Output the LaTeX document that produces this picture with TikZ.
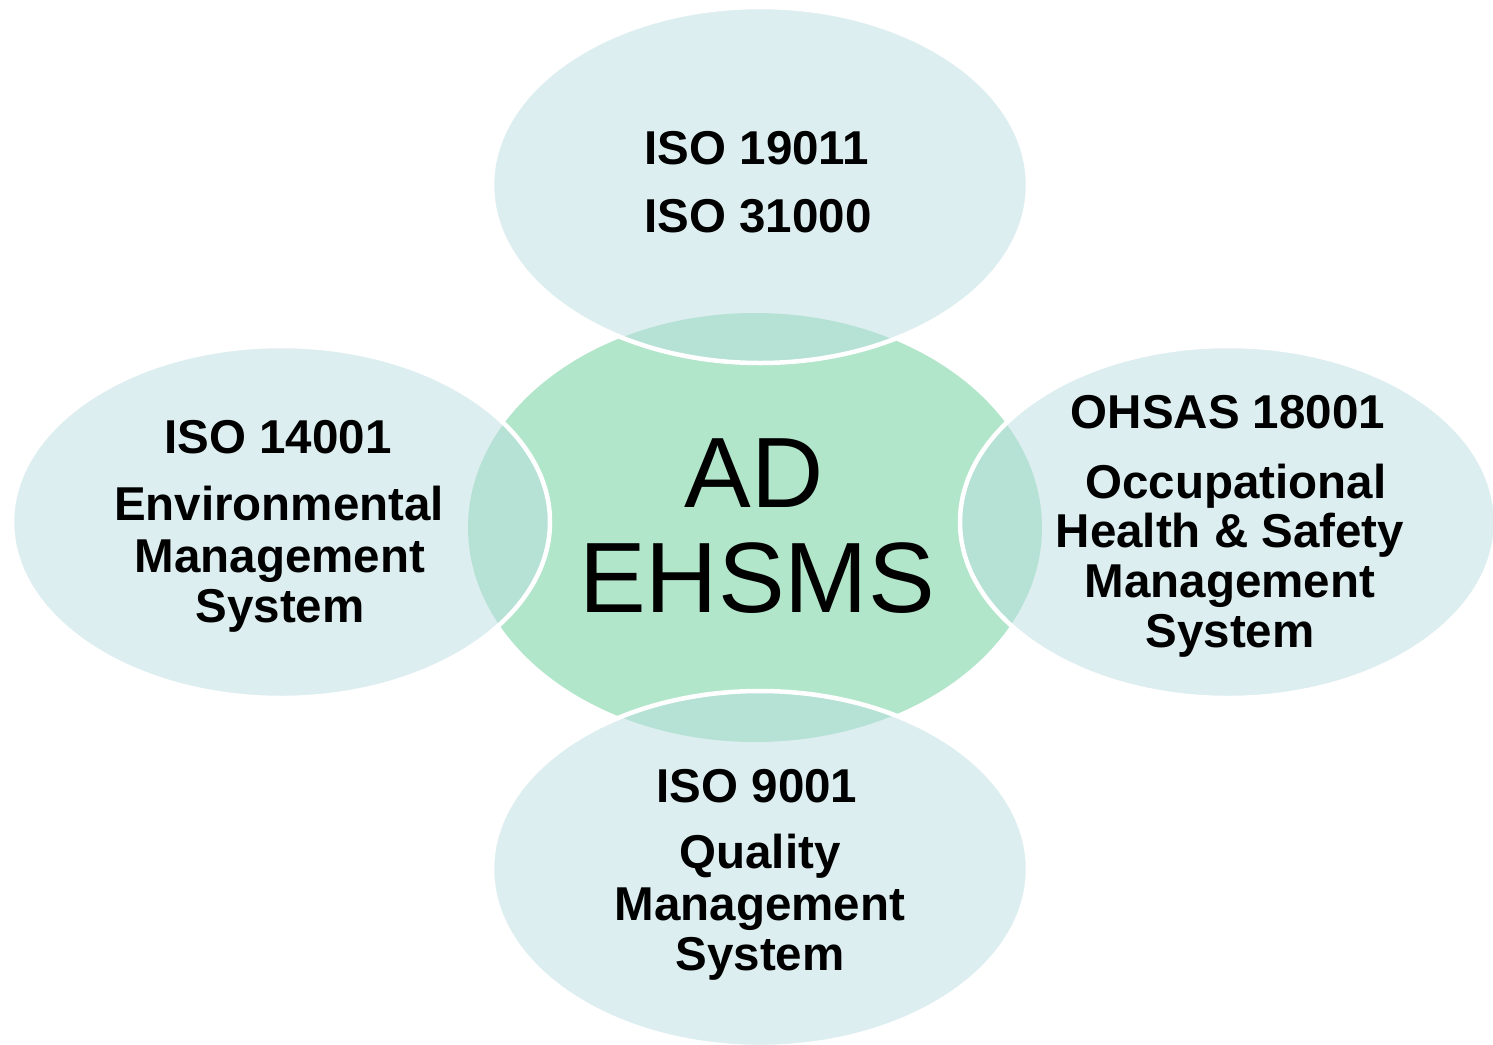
\documentclass[tikz,border=0pt]{standalone}
\usepackage{fontspec}
\setmainfont{Liberation Sans}
\definecolor{outerfill}{RGB}{187,221,225}
\definecolor{centerfill}{RGB}{178,230,202}
\begin{document}
\begin{tikzpicture}[x=1pt,y=-1pt,
  outerell/.style={fill=outerfill, fill opacity=0.5, draw=white, line width=4.5pt},
  lbl/.style={anchor=base, inner sep=0pt, font=\bfseries\fontsize{47.5}{50}\selectfont},
  ctrlbl/.style={anchor=base, inner sep=0pt, font=\fontsize{100}{105}\selectfont}]
\useasboundingbox (0,0) rectangle (1493,1044);
\clip (0,0) rectangle (1493,1044);
% centre
\fill[centerfill] (755,527.5) ellipse [x radius=287, y radius=214.5];
% outer ellipses
\path[outerell] (760,185) ellipse [x radius=268, y radius=178];
\path[outerell] (281,522) ellipse [x radius=269, y radius=176];
\path[outerell] (1228,522) ellipse [x radius=268, y radius=176];
\path[outerell] (760,869) ellipse [x radius=268, y radius=178];
% centre text
\node[ctrlbl] (c1) at (754,507) {AD};
\node[ctrlbl] (c2) at (757,612) {EHSMS};
% top
\node[lbl] (t1) at (757,164) {ISO 19011};
\node[lbl] (t2) at (758,232) {ISO 31000};
% left
\node[lbl] (l1) at (278,453) {ISO 14001};
\node[lbl] (l2) at (279,520) {Environmental};
\node[lbl] (l3) at (280,572) {Management};
\node[lbl] (l4) at (280,622) {System};
% right
\node[lbl] (r1) at (1228,428) {OHSAS 18001};
\node[lbl] (r2) at (1236,498) {Occupational};
\node[lbl] (r3) at (1230,547) {Health \& Safety};
\node[lbl] (r4) at (1230,597) {Management};
\node[lbl] (r5) at (1230,647) {System};
% bottom
\node[lbl] (b1) at (757,802) {ISO 9001};
\node[lbl] (b2) at (760,868) {Quality};
\node[lbl] (b3) at (760,920) {Management};
\node[lbl] (b4) at (760,970) {System};
\end{tikzpicture}
\end{document}
